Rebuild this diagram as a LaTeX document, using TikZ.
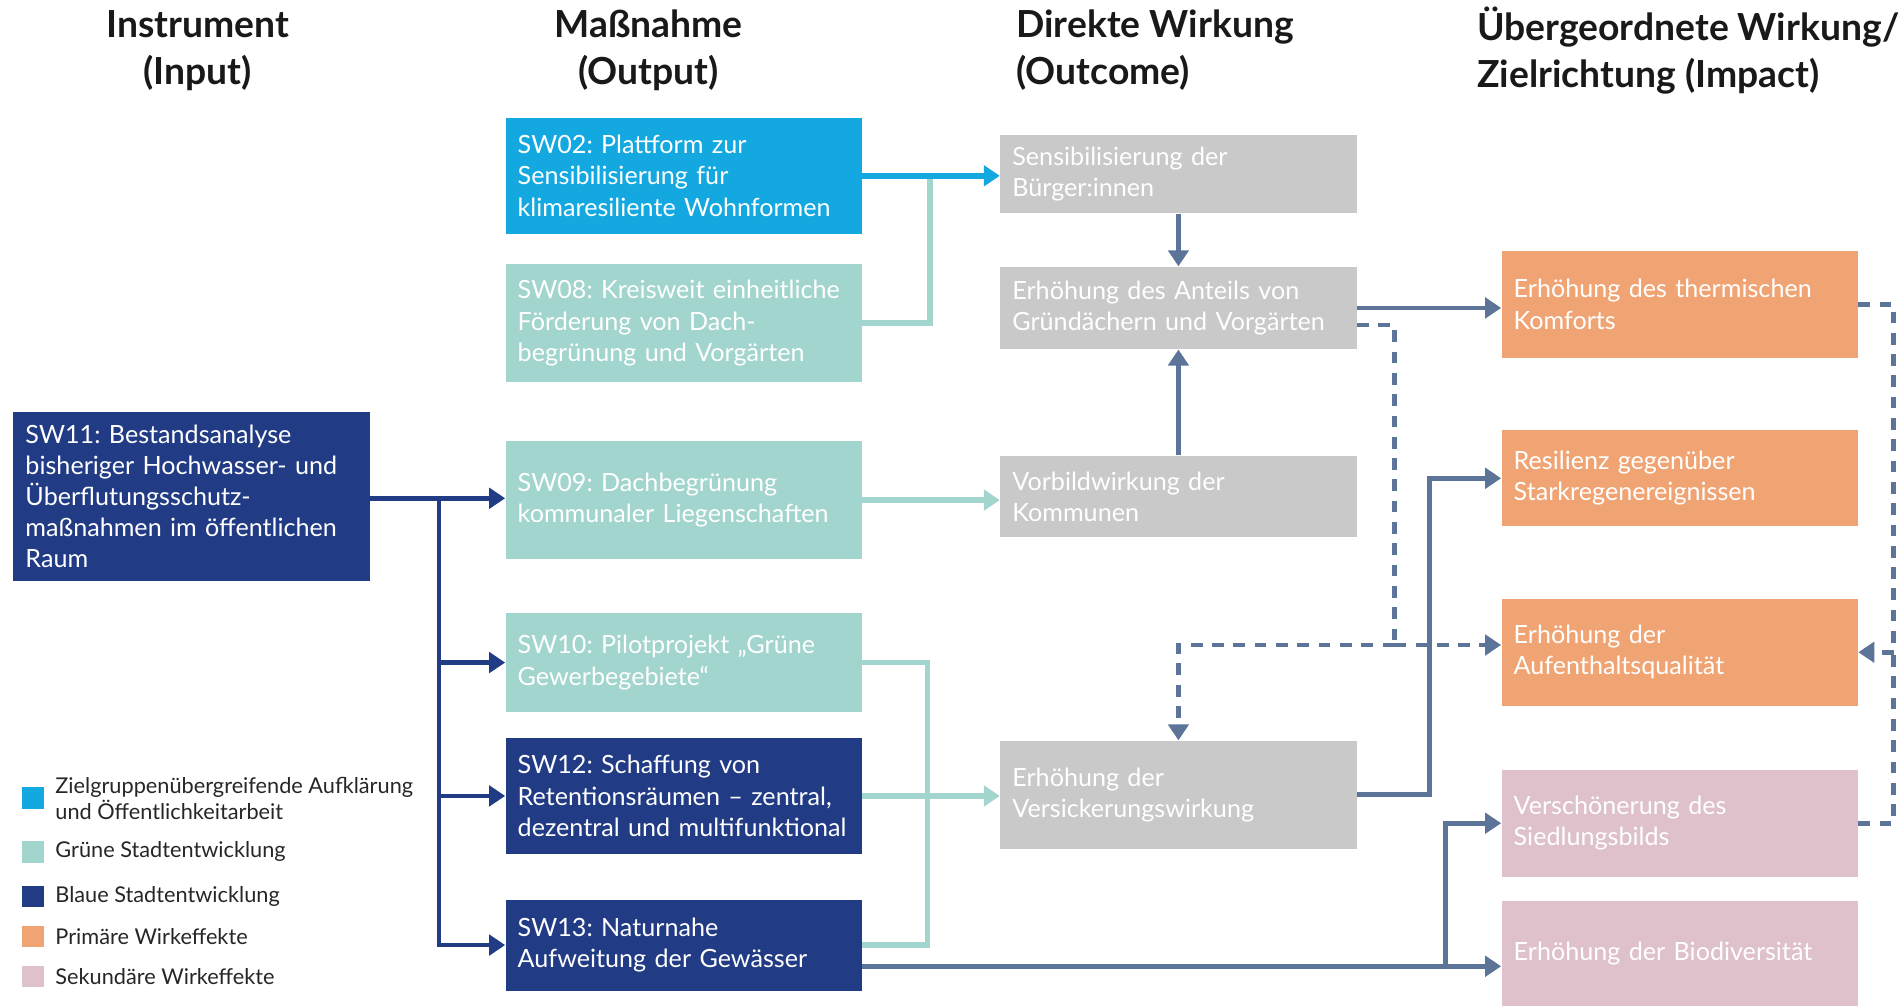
\documentclass[tikz,border=0pt]{standalone}
\usepackage{fontspec}
\setmainfont{Lato}
\usepackage{tikz}
\usetikzlibrary{arrows.meta, positioning}
\frenchspacing

\definecolor{swcyan}{HTML}{13A8E0}
\definecolor{swteal}{HTML}{A2D5CD}
\definecolor{swblue}{HTML}{213B85}
\definecolor{swgray}{HTML}{C9C9C9}
\definecolor{sworange}{HTML}{F1A473}
\definecolor{swpink}{HTML}{DEC1CB}
\definecolor{swslate}{HTML}{5B7497}

\begin{document}
\begin{tikzpicture}[
    x=0.02cm, y=-0.02cm,
    box/.style={rectangle, text=white, align=left, inner xsep=0.2cm, inner ysep=0pt, text width=5.48cm, minimum width=5.88cm, font=\fontsize{11.8}{14.6}\selectfont},
    head/.style={inner sep=0pt, text=black!90, font=\fontsize{17.5}{22}\selectfont\bfseries},
    legbox/.style={rectangle, minimum size=0.36cm, inner sep=0pt},
    legtext/.style={inner sep=0pt, align=left, text=black!85, font=\fontsize{10.2}{12}\selectfont},
    arrow/.style={-{Triangle[width=9.5pt,length=7.5pt]}, line width=2.2pt, swslate},
    bluearrow/.style={arrow, swblue},
    cyanarrow/.style={arrow, line width=2.6pt, swcyan},
    tealline/.style={line width=2.6pt, swteal},
    tealarrow/.style={arrow, line width=2.6pt, swteal},
    dashline/.style={line width=2.2pt, swslate, dash pattern={on 5.5pt off 4.5pt}},
    dasharrow/.style={dashline, -{Triangle[width=9.5pt,length=7.5pt]}}
]
\useasboundingbox (0,0) rectangle (1568,831);

% Column heads
\node[head, align=center] (hin) at (163,41.5) {Instrument\\(Input)};
\node[head, align=center] (hout) at (535,41.5) {Maßnahme\\(Output)};
\node[head, align=left, anchor=west] (hoc) at (838,41.5) {Direkte Wirkung\\(Outcome)};
\node[head, align=left, anchor=west] (himp) at (1218,41.5) {Übergeordnete Wirkung/\\Zielrichtung (Impact)};

% Nodes using absolute positioning
\node[box, fill=swblue, minimum height=2.78cm] (sw11) at (158,409.5) {SW11: Bestandsanalyse\\bisheriger Hochwasser- und\\Überflutungsschutz-\\maßnahmen im öffentlichen\\Raum};

\node[box, fill=swcyan, minimum height=1.92cm] (sw02) at (564,145) {SW02: Plattform zur\\Sensibilisierung für\\klimaresiliente Wohnformen};
\node[box, fill=swteal, minimum height=1.94cm] (sw08) at (564,266.5) {SW08: Kreisweit einheitliche\\Förderung von Dach-\\begrünung und Vorgärten};
\node[box, fill=swteal, minimum height=1.94cm] (sw09) at (564,412.5) {SW09: Dachbegrünung\\kommunaler Liegenschaften};
\node[box, fill=swteal, minimum height=1.62cm] (sw10) at (564,546.5) {SW10: Pilotprojekt „Grüne\\Gewerbegebiete“};
\node[box, fill=swblue, minimum height=1.9cm] (sw12) at (564,656.5) {SW12: Schaffung von\\Retentionsräumen – zentral,\\dezentral und multifunktional};
\node[box, fill=swblue, minimum height=1.5cm] (sw13) at (564,779.5) {SW13: Naturnahe\\Aufweitung der Gewässer};

\node[box, fill=swgray, minimum height=1.3cm] (sens) at (972,143.5) {Sensibilisierung der\\Bürger:innen};
\node[box, fill=swgray, minimum height=1.36cm] (anteil) at (972,254) {Erhöhung des Anteils von\\Gründächern und Vorgärten};
\node[box, fill=swgray, minimum height=1.34cm] (vorbild) at (972,409.5) {Vorbildwirkung der\\Kommunen};
\node[box, fill=swgray, minimum height=1.78cm] (versick) at (972,655.5) {Erhöhung der\\Versickerungswirkung};

\node[box, fill=sworange, minimum height=1.76cm] (thermisch) at (1385.5,251) {Erhöhung des thermischen\\Komforts};
\node[box, fill=sworange, minimum height=1.58cm] (resilienz) at (1385.5,394.5) {Resilienz gegenüber\\Starkregenereignissen};
\node[box, fill=sworange, minimum height=1.76cm] (aufenthalt) at (1385.5,538) {Erhöhung der\\Aufenthaltsqualität};
\node[box, fill=swpink, minimum height=1.76cm] (verschoen) at (1385.5,679) {Verschönerung des\\Siedlungsbilds};
\node[box, fill=swpink, minimum height=1.74cm] (biodiv) at (1385.5,786.5) {Erhöhung der Biodiversität};

% Legend
\node[legbox, fill=swcyan] (leg1) at (27,658.5) {};
\node[legtext, right=0.18cm of leg1] {Zielgruppenübergreifende Aufklärung\\und Öffentlichkeitarbeit};
\node[legbox, fill=swteal] (leg2) at (27,702.5) {};
\node[legtext, right=0.18cm of leg2] {Grüne Stadtentwicklung};
\node[legbox, fill=swblue] (leg3) at (27,739.5) {};
\node[legtext, right=0.18cm of leg3] {Blaue Stadtentwicklung};
\node[legbox, fill=sworange] (leg4) at (27,772.5) {};
\node[legtext, right=0.18cm of leg4] {Primäre Wirkeffekte};
\node[legbox, fill=swpink] (leg5) at (27,805.5) {};
\node[legtext, right=0.18cm of leg5] {Sekundäre Wirkeffekte};

% Junctions
\coordinate (j1) at (767,145);
\coordinate (j2) at (362,411);
\coordinate (j3) at (765,656.5);
\coordinate (j4) at (1150,532);
\coordinate (j6) at (1562,538);
\coordinate (j7) at (1192,797);
\coordinate (d1) at ([yshift=-0.28cm]anteil.east);
\coordinate (b1) at ([yshift=-0.35cm]sw13.east);

% Arrows
\draw[tealline] (sw08.east) -| (j1);
\draw[cyanarrow] (sw02.east) -- (sw02.east -| sens.west);
\draw[arrow] (sens) -- (anteil);
\draw[arrow] (vorbild) -- (anteil);
\draw[tealarrow] (sw09.east) -- (sw09.east -| vorbild.west);

\draw[bluearrow] (sw11.east |- j2) -- (j2 -| sw09.west);
\draw[bluearrow] (j2) |- (sw10.west);
\draw[bluearrow] (j2) |- (sw12.west);
\draw[bluearrow] (j2) |- (sw13.west);

\draw[tealline] (sw10.east) -| (j3);
\draw[tealline] (sw13.east) -| (j3);
\draw[tealarrow] (sw12.east) -- (sw12.east -| versick.west);

\draw[arrow] (anteil.east) -- (anteil.east -| thermisch.west);
\draw[dashline] (d1) -| (j4);
\draw[dasharrow] (j4) -- (j4 -| aufenthalt.west);
\draw[dasharrow] (j4) -| (versick.north);
\draw[arrow] (versick.east) -- ++(60,0) |- (resilienz.west);

\draw[dashline] (thermisch.east) -| (j6);
\draw[dashline] (verschoen.east) -| (j6);
\draw[dasharrow] (j6) -- (aufenthalt.east);

\draw[arrow] (b1) -- (b1 -| biodiv.west);
\draw[arrow] (j7) |- (verschoen.west);

\end{tikzpicture}
\end{document}
